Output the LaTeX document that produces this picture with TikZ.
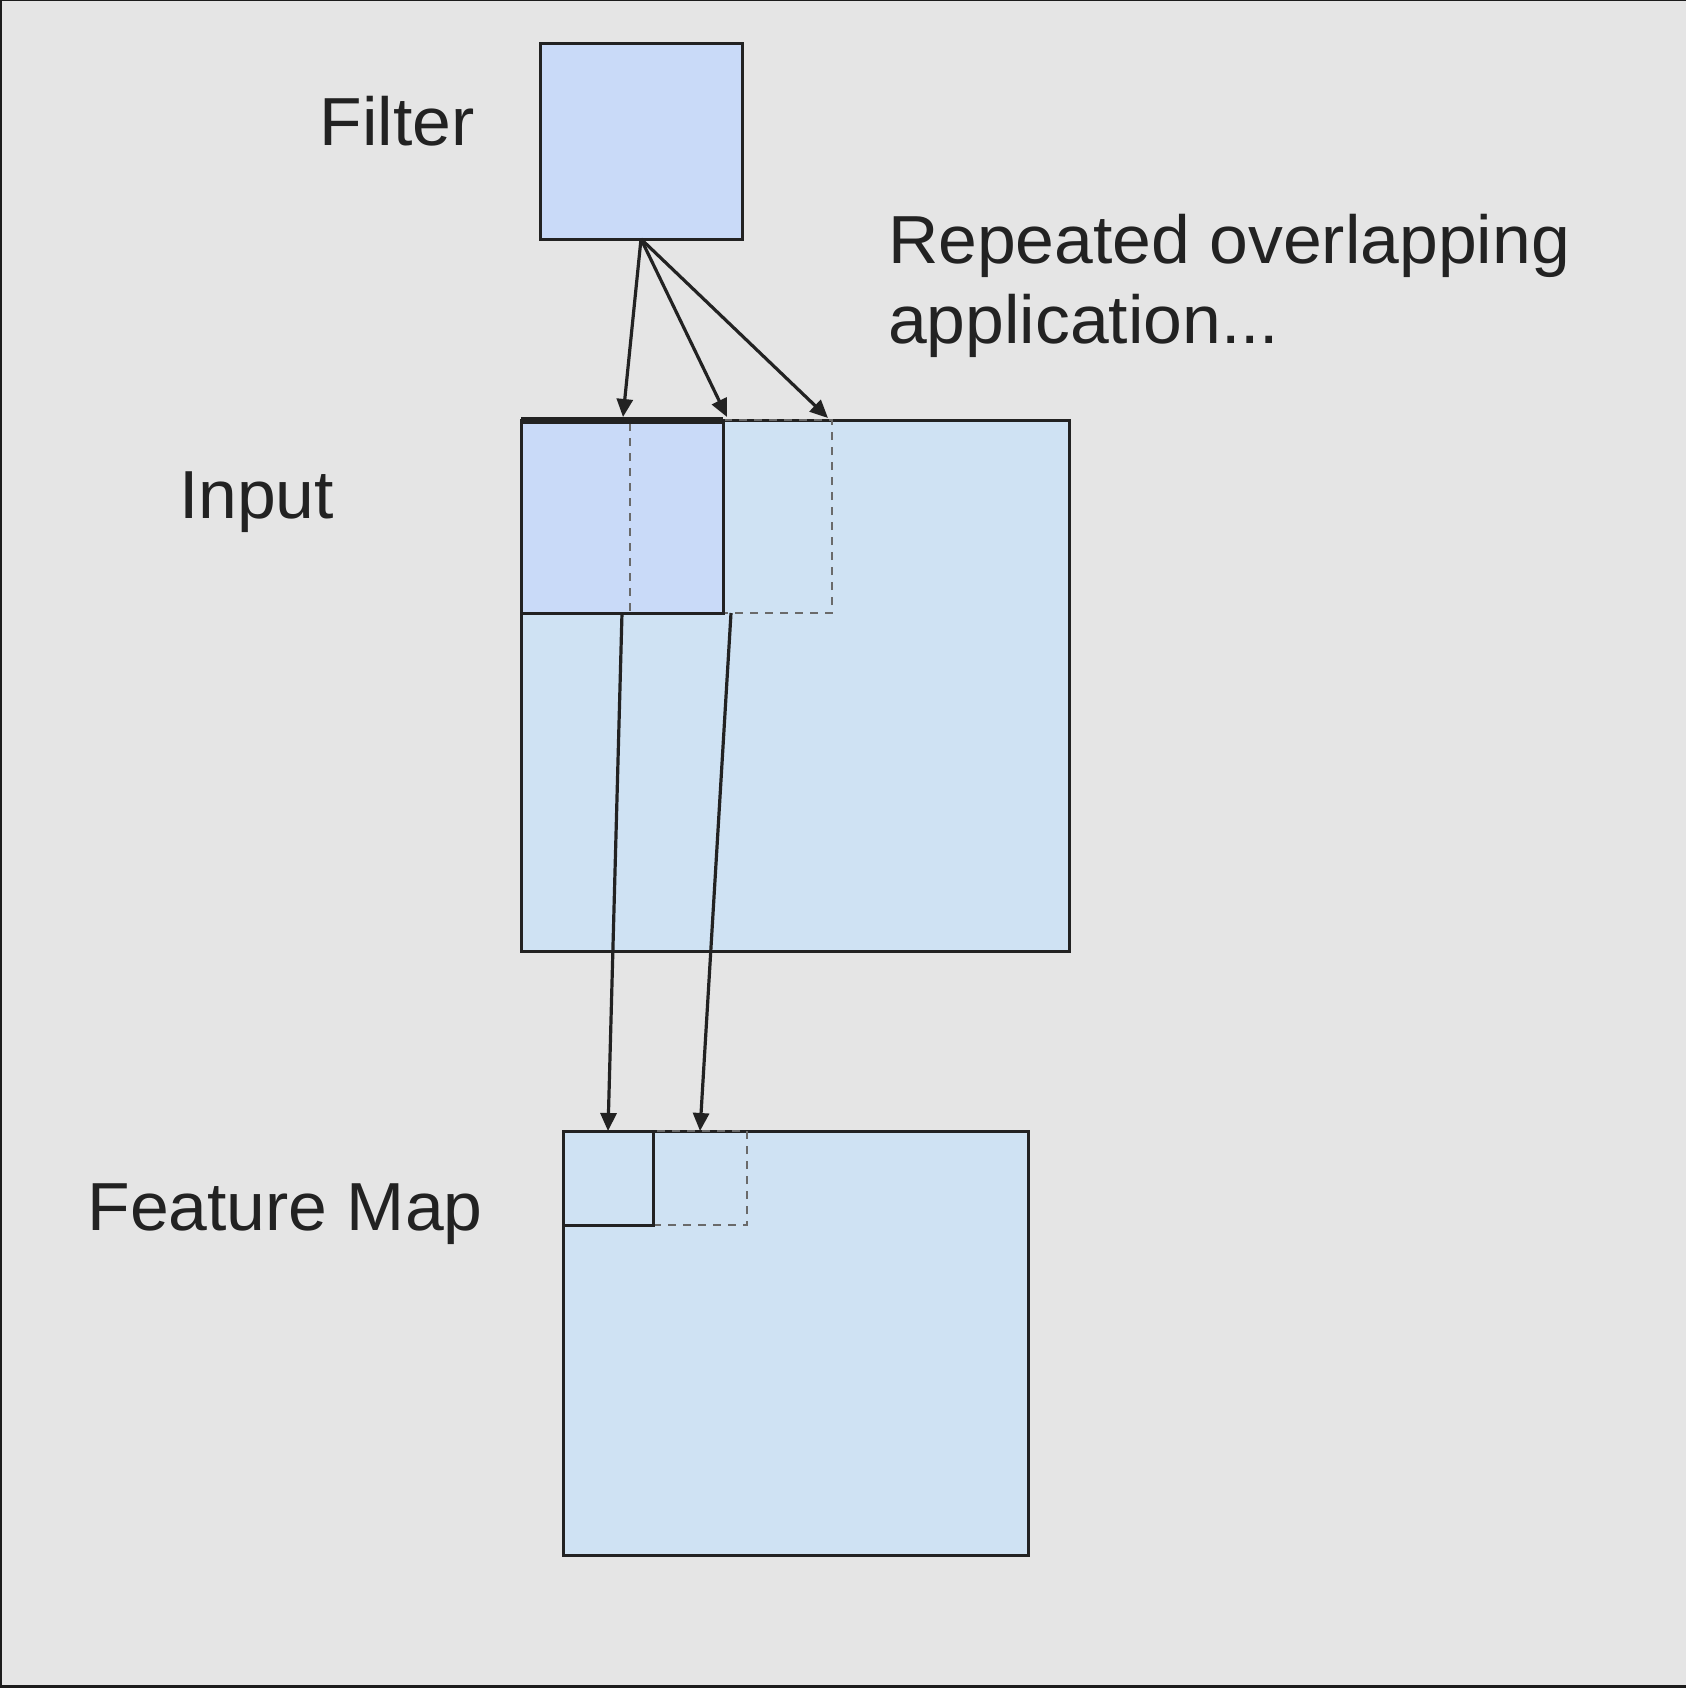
\documentclass[tikz,border=0pt]{standalone}
\usepackage{fontspec}
\setmainfont[FakeStretch=1.025]{Liberation Sans}
\usetikzlibrary{arrows.meta}
\definecolor{bg}{HTML}{E5E5E5}
\definecolor{edge}{HTML}{1C1C1C}
\definecolor{filterfill}{HTML}{C9DAF8}
\definecolor{inputfill}{HTML}{CFE2F3}
\definecolor{ink}{HTML}{222222}
\definecolor{dashgray}{HTML}{6A6A6A}
\begin{document}
\begin{tikzpicture}[x=0.5pt,y=-0.5pt,
  box/.style={rectangle,draw=ink,line width=1.5pt,inner sep=0pt,outer sep=0pt},
  fillonly/.style={rectangle,inner sep=0pt,outer sep=0pt},
  dashbox/.style={rectangle,draw=dashgray,line width=1pt,dash pattern=on 4pt off 3.5pt,inner sep=0pt,outer sep=0pt},
  conn/.style={draw=ink,line width=1.6pt,-{Triangle[length=9pt,width=8pt]}},
  lbl/.style={anchor=base west,inner sep=0pt,outer sep=0pt,text=ink,font=\fontsize{34}{40}\selectfont}
]
\useasboundingbox (0,0) rectangle (1686,1688);
\fill[bg] (0,0) rectangle (1686,1688);
\fill[edge] (0,0) rectangle (2,1688);
\fill[edge] (0,0) rectangle (1686,1);
\fill[edge] (0,1685) rectangle (1686,1688);

% Filter
\node[box,fill=filterfill,minimum width=101pt,minimum height=98pt] (filter) at (641,141) {};

% Input
\node[box,fill=inputfill,minimum width=274pt,minimum height=265.5pt] (input) at (795,685.5) {};
\node[fillonly,fill=filterfill,minimum width=101pt,minimum height=96.5pt] (win1) at (622,516.5) {};
\node[dashbox,minimum width=101pt,minimum height=96.5pt] (win2) at (731,516.5) {};
\draw[ink,line width=1.5pt] (win1.south west) rectangle (win1.north east);
\draw[ink,line width=3.5pt] (win1.north west) -- (win1.north east);

% Feature map
\node[box,fill=inputfill,minimum width=232.5pt,minimum height=212pt] (fmap) at (795.5,1343) {};
\node[dashbox,minimum width=47pt,minimum height=47pt] (cell2) at (700,1178) {};
\node[box,minimum width=45pt,minimum height=47pt] (cell1) at (608,1178) {};

% Connectors
\coordinate (t1) at (623,417);
\coordinate (t2) at (727,417);
\coordinate (t3) at (828,418);
\draw[conn] (filter.south) -- (t1);
\draw[conn] (filter.south) -- (t2);
\draw[conn] (filter.south) -- (t3);
\draw[conn] (win1.south) -- (cell1.north);
\draw[conn] (win2.south) -- (cell2.north);

% Labels
\node[lbl] (lfilter) at (319.5,145) {Filter};
\node[lbl] (linput) at (179,518) {Input};
\node[lbl] (lfmap) at (87.5,1230) {Feature Map};
\node[lbl] (lrep1) at (888,263) {Repeated overlapping};
\node[lbl] (lrep2) at (888,343) {application...};
\end{tikzpicture}
\end{document}
